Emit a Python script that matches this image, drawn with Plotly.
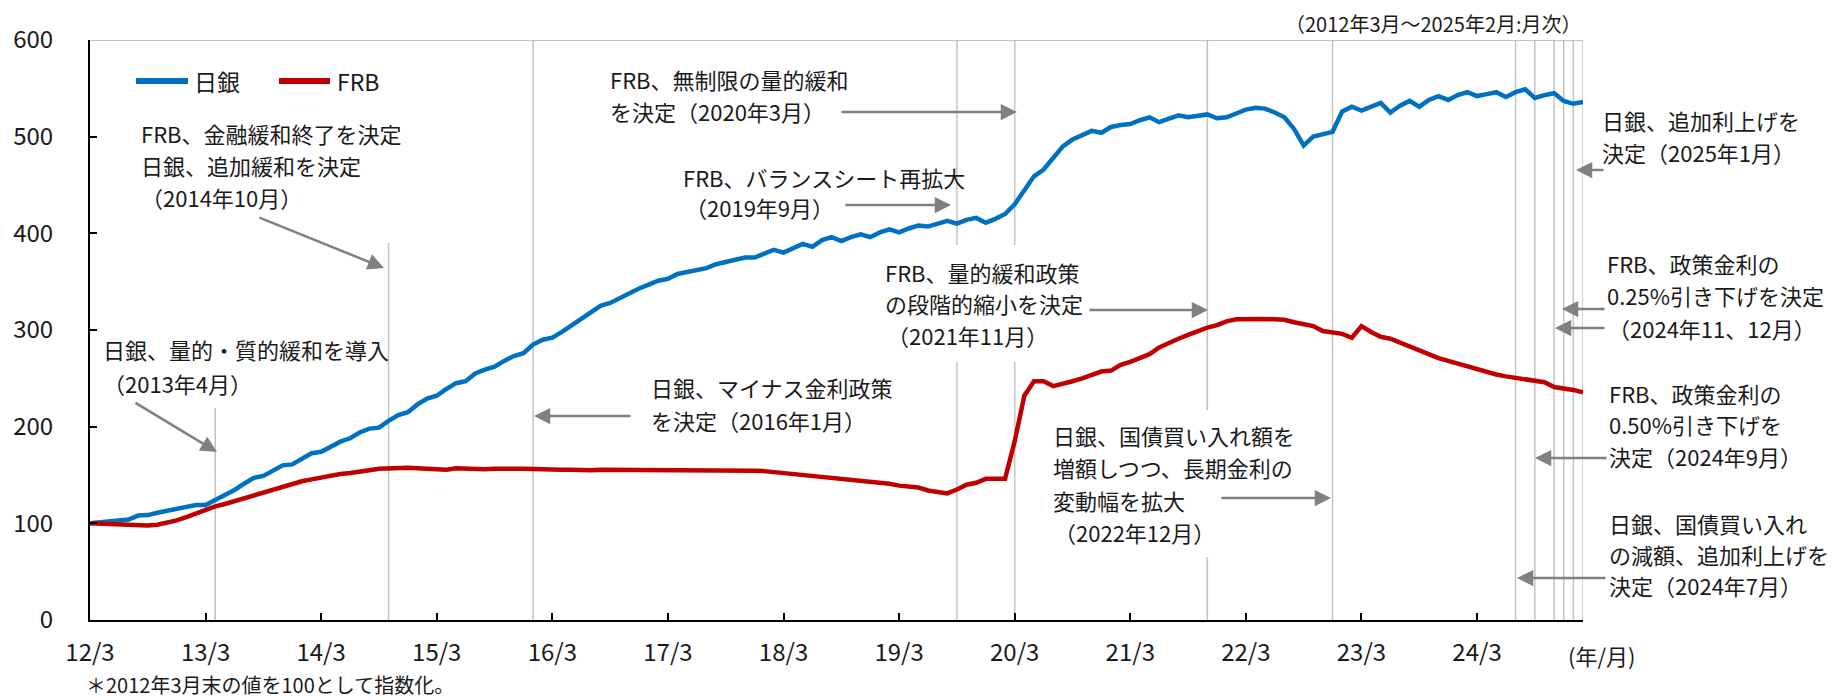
import plotly.graph_objects as go

# ---------------- data (index, end of Mar-2012 = 100) ----------------
months = list(range(156))  # 2012/3 ... 2025/2, monthly
boj = [100, 101, 102, 103, 104, 108, 108.5, 111, 113, 115,
       116, 119, 119, 124, 130, 134.5, 141, 147, 149, 155,
       160, 161, 167, 172.5, 174, 179, 184.5, 188, 194, 198,
       199, 206, 212, 215, 223, 229, 232, 239, 245, 247,
       255, 259, 262, 268, 273, 276, 285, 290, 292, 298,
       305, 311, 318, 325, 328, 333, 339, 343, 347, 351,
       353, 358, 360, 362, 364, 368, 370, 373, 375, 375,
       379, 383, 380, 385, 389, 386, 393, 396, 392, 396,
       399, 396, 401, 404, 401, 405, 408, 407, 410, 413,
       410, 414, 416, 411, 415, 420, 430, 444, 459, 466,
       478, 490, 497, 502, 506, 504, 510, 512, 513, 517,
       520, 515, 519, 522, 520, 521, 523, 519, 520, 524,
       528, 530, 529, 525, 520, 508, 491, 500, 503, 505,
       526, 531, 527, 531, 535, 525, 532, 537, 531, 538,
       542, 538, 543, 546, 542, 544, 546, 541, 546, 549,
       540, 543, 545, 537, 534, 536]
frb = [100, 99.5, 99, 99.5, 99, 98, 97.8, 98.5, 100.5, 103,
       106.5, 110.5, 114, 117.5, 120, 123, 126, 129, 132, 135,
       138, 141, 143.5, 145.5, 147.5, 150, 151, 152, 154, 155,
       156.5, 157, 157.5, 157.5, 157, 156.5, 156, 155.5, 157, 156.5,
       156, 156, 156.5, 156, 156.5, 156.5, 156, 156, 156, 155.5,
       155.5, 155, 155, 155.5, 155.5, 155, 155, 155, 155, 155.5,
       155.5, 155.5, 155.5, 155, 155, 155, 155.5, 155, 155, 154.5,
       154, 153, 153, 152, 150, 149.5, 148, 147, 146, 145,
       144.5, 143, 142, 141, 139, 138, 137, 134, 133, 131,
       135, 140, 142, 146, 146, 146, 185, 232, 247, 247,
       242, 244, 247, 250, 253, 257, 258, 264, 267, 271,
       275, 282, 287, 291, 295, 299, 302.5, 305, 309, 311,
       311.5, 312, 311.5, 311, 310.5, 308, 306, 304, 299, 298,
       296, 292, 304, 298, 293, 291, 287, 282, 278, 274,
       271, 268, 265, 263, 260, 257, 254, 252, 250.5, 249,
       247.5, 246, 241, 240, 238, 235.5]

tick_vals = [0, 12, 24, 36, 48, 60, 72, 84, 96, 108, 120, 132, 144]
tick_text = ["12/3", "13/3", "14/3", "15/3", "16/3", "17/3", "18/3",
             "19/3", "20/3", "21/3", "22/3", "23/3", "24/3"]

# policy events (month index from 2012/3)
event_months = [13, 31, 46, 90, 96, 116, 129, 148, 150, 152, 153, 154]

BLUE = "#0070C0"
RED = "#C00000"
GRID = "#C3C3C3"
ARROW = "#808080"
FONT = "Noto Sans CJK JP"

# ---------------- layout geometry ----------------
W, H = 1837, 700
L, R, T, B = 90, 1583, 40, 620
XMAX, YMAX = 155, 600


def X(px):
    return (px - L) / (R - L) * XMAX


def Y(py):
    return (B - py) / (B - T) * YMAX


def PX(px):
    return (px - L) / (R - L)


def PY(py):
    return (B - py) / (B - T)


fig = go.Figure()
fig.add_trace(go.Scatter(x=months, y=boj, mode="lines", name="日銀",
                         line=dict(color=BLUE, width=4.5)))
fig.add_trace(go.Scatter(x=months, y=frb, mode="lines", name="FRB",
                         line=dict(color=RED, width=4.5)))

shapes = []
# event lines (with gaps where text sits)
gaps = {13: [(0, Y(408))], 31: [(0, Y(243))],
        90: [(0, Y(362)), (Y(245), YMAX)], 96: [(0, Y(362)), (Y(245), YMAX)],
        116: [(0, Y(557)), (Y(410), YMAX)]}
for m in event_months + [XMAX]:
    for (y0, y1) in gaps.get(m, [(0, YMAX)]):
        shapes.append(dict(type="line", xref="x", yref="y", x0=m, x1=m, y0=y0, y1=y1,
                           line=dict(color=GRID, width=1.5), layer="below"))
# top frame
shapes.append(dict(type="line", xref="x", yref="y", x0=0, x1=XMAX, y0=YMAX, y1=YMAX,
                   line=dict(color="#B0B0B0", width=1.5), layer="below"))
# legend swatches
shapes.append(dict(type="line", xref="x", yref="y", x0=X(136), x1=X(188), y0=Y(81), y1=Y(81),
                   line=dict(color=BLUE, width=6)))
shapes.append(dict(type="line", xref="x", yref="y", x0=X(279), x1=X(330), y0=Y(81), y1=Y(81),
                   line=dict(color=RED, width=6)))

ann = []


def text(px, py, s, size=22, anchor="left"):
    ann.append(dict(x=PX(px), y=PY(py), xref="paper", yref="paper", text=s, showarrow=False,
                    xanchor=anchor, yanchor="middle",
                    font=dict(family=FONT, size=size, color="#1a1a1a")))


def arrow(tx, ty, hx, hy):
    ann.append(dict(x=PX(hx), y=PY(hy), xref="paper", yref="paper",
                    ax=tx - hx, ay=ty - hy, axref="pixel", ayref="pixel",
                    text="", showarrow=True, arrowhead=2,
                    arrowsize=1.3, arrowwidth=2.5, arrowcolor=ARROW, standoff=0,
                    startstandoff=0))


# legend text
text(192, 81, "日銀", 23)
text(335, 81, "FRB", 23)

# annotations
text(101, 349, "日銀、量的・質的緩和を導入")
text(101, 383, "（2013年4月）")
arrow(134, 402, 217, 452)

text(139, 133, "FRB、金融緩和終了を決定")
text(139, 165, "日銀、追加緩和を決定")
text(139, 197, "（2014年10月）")
arrow(258, 217, 384, 268)

text(649, 387, "日銀、マイナス金利政策")
text(649, 420, "を決定（2016年1月）")
arrow(632, 416, 534, 416)

text(608, 79, "FRB、無制限の量的緩和")
text(608, 111, "を決定（2020年3月）")
arrow(840, 112, 1017, 112)

text(681, 177, "FRB、バランスシート再拡大")
text(683, 207, "（2019年9月）")
arrow(844, 205, 951, 205)

text(883, 272, "FRB、量的緩和政策")
text(883, 303, "の段階的縮小を決定")
text(885, 335, "（2021年11月）")
arrow(1088, 310, 1208, 310)

text(1051, 435, "日銀、国債買い入れ額を")
text(1051, 467, "増額しつつ、長期金利の")
text(1051, 500, "変動幅を拡大")
text(1052, 532, "（2022年12月）")
arrow(1220, 498, 1331, 498)

text(1600, 120, "日銀、追加利上げを")
text(1600, 152, "決定（2025年1月）")
arrow(1605, 170, 1576, 170)

text(1605, 263, "FRB、政策金利の")
text(1605, 295, "0.25%引き下げを決定")
text(1606, 328, "（2024年11、12月）")
arrow(1606, 309, 1562, 309)
arrow(1606, 328, 1555, 328)

text(1607, 393, "FRB、政策金利の")
text(1607, 424, "0.50%引き下げを")
text(1607, 456, "決定（2024年9月）")
arrow(1608, 458, 1535, 458)

text(1607, 523, "日銀、国債買い入れ")
text(1607, 554, "の減額、追加利上げを")
text(1607, 585, "決定（2024年7月）")
arrow(1607, 578, 1517, 578)

# period note, unit, footnote
text(1584, 23, "（2012年3月～2025年2月:月次）", 20, "right")
text(1602, 655, "(年/月)", 22, "center")
text(84, 684, "＊2012年3月末の値を100として指数化。", 20)

fig.update_layout(
    width=W, height=H,
    margin=dict(l=L, r=W - R, t=T, b=H - B, autoexpand=False),
    paper_bgcolor="white", plot_bgcolor="white",
    showlegend=False,
    font=dict(family=FONT, size=22, color="#1a1a1a"),
    shapes=shapes, annotations=ann,
    xaxis=dict(range=[0, XMAX], tickvals=tick_vals, ticktext=tick_text,
               ticks="inside", ticklen=7, tickwidth=2, tickcolor="black",
               showline=True, linecolor="black", linewidth=2, showgrid=False,
               zeroline=False, tickfont=dict(size=24, family=FONT, color="#1a1a1a"),
               ticklabelstandoff=10, automargin=False),
    yaxis=dict(range=[0, YMAX], dtick=100, tick0=0,
               ticks="inside", ticklen=7, tickwidth=2, tickcolor="black",
               showline=True, linecolor="black", linewidth=2, showgrid=False,
               zeroline=False, tickfont=dict(size=24, family=FONT, color="#1a1a1a"),
               ticklabelstandoff=30, automargin=False),
)

# page body has a default 8px margin; remove it so the figure sits at the window origin
fig.write_html("out.html", config={"displayModeBar": False},
               post_script="document.body.style.margin='0';document.body.style.overflow='hidden';")
